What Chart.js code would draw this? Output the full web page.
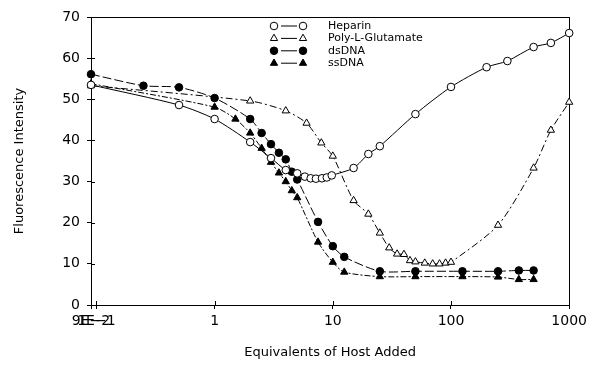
<!DOCTYPE html>
<html>
<head>
<meta charset="utf-8">
<script src="https://cdn.jsdelivr.net/npm/chart.js@4.4.0/dist/chart.umd.min.js"></script>
<style>
  body { margin: 0; background: #fff; }
  #wrap { width: 591px; height: 369px; position: relative; }
</style>
</head>
<body>
<div id="wrap"><canvas id="fl-chart"></canvas></div>
<script>
// values
var heparin_x = [0.09, 0.5, 1, 2, 3, 4, 5, 5.8, 6.5, 7.2, 8.1, 8.9, 9.8, 15, 20, 25, 50, 100, 200, 300, 500, 700, 1000];
var heparin_y = [53.5, 48.6, 45.2, 39.6, 35.7, 32.8, 32.0, 31.2, 30.8, 30.7, 30.8, 31.0, 31.5, 33.3, 36.7, 38.6, 46.4, 53.0, 57.8, 59.3, 62.7, 63.7, 66.1];

var polyglu_x = [0.09, 2, 4, 6, 8, 10, 15, 20, 25, 30, 35, 40, 45, 50, 60, 70, 80, 90, 100, 250, 500, 700, 1000];
var polyglu_y = [53.3, 49.6, 47.2, 44.2, 39.4, 36.2, 25.4, 22.1, 17.5, 13.9, 12.4, 12.3, 10.8, 10.5, 10.2, 10.0, 10.0, 10.2, 10.4, 19.4, 33.3, 42.5, 49.3];

var dsdna_x = [0.09, 0.25, 0.5, 1, 2, 2.5, 3, 3.5, 4, 4.5, 5, 7.5, 10, 12.5, 25, 50, 125, 250, 375, 500];
var dsdna_y = [56.1, 53.3, 52.9, 50.3, 45.2, 41.8, 39.1, 37.0, 35.4, 32.4, 30.5, 20.2, 14.3, 11.7, 8.2, 8.2, 8.2, 8.2, 8.4, 8.4];

var ssdna_x = [0.09, 1, 1.5, 2, 2.5, 3, 3.5, 4, 4.5, 5, 7.5, 10, 12.5, 25, 50, 125, 250, 375, 500];
var ssdna_y = [53.8, 48.1, 45.2, 41.8, 38.1, 34.7, 32.1, 30.0, 27.8, 26.1, 15.3, 10.4, 8.0, 6.9, 6.9, 6.9, 6.8, 6.2, 6.2];

var series_names = ["Heparin", "Poly-L-Glutamate", "dsDNA", "ssDNA"];
var x_tick_values = [0.09, 0.1, 1, 10, 100, 1000];
var x_tick_labels = ["9E\u22122", "1E\u22121", "1", "10", "100", "1000"];

var font_family = "'DejaVu Sans', sans-serif";

function to_points(xs, ys)
{
  return xs.map(function (x, i) { return {x: x, y: ys[i]}; });
}

function make_dataset(name, xs, ys, style, filled, dash)
{
  return {
    label: name,
    data: to_points(xs, ys),
    borderColor: '#000',
    borderWidth: 1,
    borderDash: dash,
    pointStyle: style,
    pointRadius: style === 'triangle' ? 4.2 : 3.8,
    pointBorderWidth: 1,
    pointBorderColor: '#000',
    pointBackgroundColor: filled ? '#000' : '#fff',
    tension: 0.25,
    fill: false,
    clip: false
  };
}

// legend drawn by hand: marker, line, marker, text
var legend_plugin = {
  id: 'hand_legend',
  afterDraw: function (chart)
  {
    var ctx = chart.ctx;
    ctx.save();
    chart.data.datasets.forEach(function (ds, i) {
      var y = 26 + i * 12.4;
      ctx.strokeStyle = '#000';
      ctx.lineWidth = 1;
      ctx.setLineDash([]);
      ctx.beginPath();
      ctx.moveTo(281, y);
      ctx.lineTo(297, y);
      ctx.stroke();
      [274, 303].forEach(function (px) {
        ctx.fillStyle = ds.pointBackgroundColor;
        ctx.strokeStyle = '#000';
        Chart.helpers.drawPoint(ctx, {pointStyle: ds.pointStyle, radius: ds.pointRadius, rotation: 0, borderWidth: 1}, px, y);
      });
      ctx.fillStyle = '#000';
      ctx.font = "11px " + font_family;
      ctx.textBaseline = 'middle';
      ctx.textAlign = 'left';
      ctx.fillText(series_names[i], 328, y);
    });
    ctx.restore();
  }
};

// closed frame around the plot, plus the inner half of each tick
var frame_plugin = {
  id: 'frame',
  beforeDatasetsDraw: function (chart)
  {
    var a = chart.chartArea;
    var ctx = chart.ctx;
    ctx.save();
    ctx.strokeStyle = '#000';
    ctx.lineWidth = 1;
    ctx.strokeRect(Math.round(a.left) + 0.5, Math.round(a.top) + 0.5, Math.round(a.right - a.left), Math.round(a.bottom - a.top));
    ctx.beginPath();
    chart.scales.y.ticks.forEach(function (t) {
      var py = Math.round(chart.scales.y.getPixelForValue(t.value)) + 0.5;
      ctx.moveTo(a.left, py);
      ctx.lineTo(a.left + 4, py);
    });
    chart.scales.x.ticks.forEach(function (t) {
      var px = Math.round(chart.scales.x.getPixelForValue(t.value)) + 0.5;
      ctx.moveTo(px, a.bottom);
      ctx.lineTo(px, a.bottom - 4);
    });
    ctx.stroke();
    ctx.restore();
  }
};

Chart.defaults.font.family = font_family;
Chart.defaults.color = '#000';

var fl_chart = new Chart(document.getElementById("fl-chart"), {
  type: 'line',
  data: {
    datasets: [
      make_dataset(series_names[0], heparin_x, heparin_y, 'circle', false, []),
      make_dataset(series_names[1], polyglu_x, polyglu_y, 'triangle', false, [7, 3, 2, 3]),
      make_dataset(series_names[2], dsdna_x, dsdna_y, 'circle', true, [9, 3]),
      make_dataset(series_names[3], ssdna_x, ssdna_y, 'triangle', true, [6, 2, 2, 2])
    ]
  },
  options: {
    animation: false,
    responsive: true,
    maintainAspectRatio: false,
    layout: { padding: { left: 0, top: 17, right: 21, bottom: 0 } },
    plugins: {
      legend: { display: false },
      tooltip: { enabled: false }
    },
    scales: {
      x: {
        type: 'logarithmic',
        min: 0.09,
        max: 1000,
        afterBuildTicks: function (scale) {
          scale.ticks = x_tick_values.map(function (v) { return {value: v}; });
        },
        afterFit: function (scale) { scale.height = 64; },
        ticks: {
          autoSkip: false,
          maxRotation: 0,
          padding: 4,
          font: { size: 14 },
          callback: function (value, index) { return x_tick_labels[index]; }
        },
        grid: { drawOnChartArea: false, tickLength: 4, color: '#000' },
        border: { color: '#000', width: 1 },
        title: {
          display: true,
          text: 'Equivalents of Host Added',
          font: { size: 13 },
          padding: { top: 0, bottom: 9 }
        }
      },
      y: {
        min: 0,
        max: 70,
        afterFit: function (scale) { scale.width = 91; },
        ticks: { stepSize: 10, padding: 7, font: { size: 14 } },
        grid: { drawOnChartArea: false, tickLength: 4, color: '#000' },
        border: { color: '#000', width: 1 },
        title: {
          display: true,
          text: 'Fluorescence Intensity',
          font: { size: 13 },
          padding: { top: 12, bottom: 0 }
        }
      }
    }
  },
  plugins: [frame_plugin, legend_plugin]
});
</script>
</body>
</html>
